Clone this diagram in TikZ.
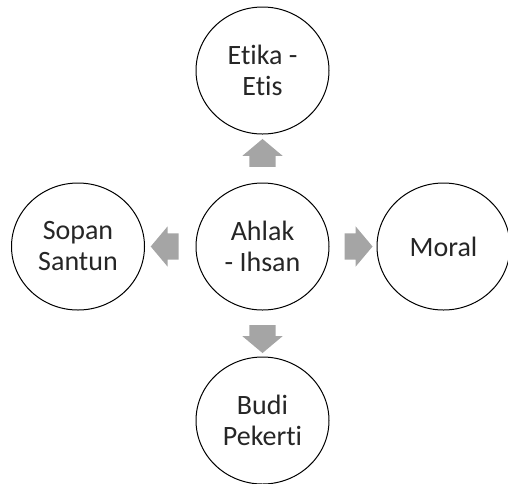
\documentclass[tikz,border=0pt]{standalone}
\usepackage{fontspec}
\setmainfont{Carlito}[Ligatures=NoCommon]
\usepackage{tikz}
\usetikzlibrary{shapes.geometric,shapes.arrows,calc}
\definecolor{arrowgray}{HTML}{A5A5A5}
\definecolor{textgray}{HTML}{262626}

\begin{document}
\begin{tikzpicture}[
    x=1pt, y=-1pt,
    topic/.style={ellipse, draw=black, line width=1pt, fill=white, minimum width=133pt, minimum height=127pt, inner sep=0pt, align=center, text=textgray, font=\fontsize{28}{31}\selectfont},
    blockarrow/.style={single arrow, fill=arrowgray, draw=none, minimum height=28pt, inner xsep=0pt, inner ysep=13pt, single arrow head extend=7pt, single arrow tip angle=100}
]
    \useasboundingbox (0,0) rectangle (508,483);

    % Central topic
    \node[topic] (ahlak) at (262.5,246.5) {Ahlak\\- Ihsan};

    % Surrounding topics
    \node[topic] (etika) at (262.5,70.5) {Etika -\\Etis};
    \node[topic] (sopan) at (78,246.5) {Sopan\\Santun};
    \node[topic] (moral) at (443.5,246.5) {Moral};
    \node[topic] (budi) at (262.5,420.5) {Budi\\Pekerti};

    % Block arrows between topics
    \node[blockarrow, rotate=90] (toetika) at ($(ahlak.north)!0.5!(etika.south)$) {};
    \node[blockarrow, rotate=180] (tosopan) at ($(ahlak.west)!0.5!(sopan.east)$) {};
    \node[blockarrow] (tomoral) at ($(ahlak.east)!0.5!(moral.west)$) {};
    \node[blockarrow, rotate=-90] (tobudi) at ($(ahlak.south)!0.5!(budi.north)$) {};
\end{tikzpicture}
\end{document}
